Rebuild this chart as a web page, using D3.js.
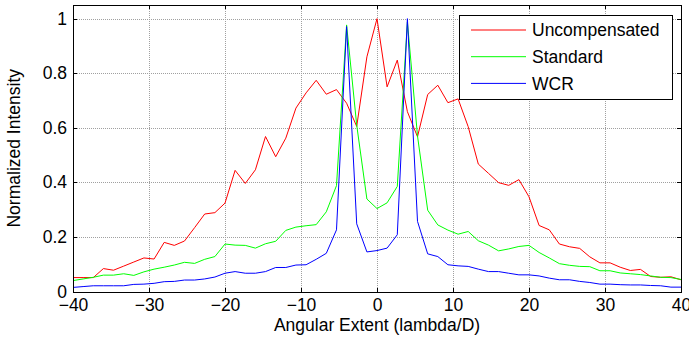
<!DOCTYPE html>
<html>
<head>
<meta charset="utf-8">
<script src="https://cdn.jsdelivr.net/npm/d3@7"></script>
<style>
  body { margin: 0; background: #fff; }
  svg text { font-family: "Liberation Sans", Arial, sans-serif; fill: #000; }
  .grid line { stroke: #a0a0a0; stroke-dasharray: 1,1; shape-rendering: crispEdges; }
  .axis path, .axis line { stroke: #000; shape-rendering: crispEdges; }
  .line { fill: none; stroke-width: 1; }
</style>
</head>
<body>
<svg id="chart"></svg>
<script>
// Data
const xValues = [-40, -38.67, -37.33, -36, -34.67, -33.33, -32, -30.67, -29.33, -28,
  -26.67, -25.33, -24, -22.67, -21.33, -20, -18.67, -17.33, -16, -14.67,
  -13.33, -12, -10.67, -9.33, -8, -6.67, -5.33, -4, -2.67, -1.33,
  0, 1.33, 2.67, 4, 5.33, 6.67, 8, 9.33, 10.67, 12,
  13.33, 14.67, 16, 17.33, 18.67, 20, 21.33, 22.67, 24, 25.33,
  26.67, 28, 29.33, 30.67, 32, 33.33, 34.67, 36, 37.33, 38.67, 40];

const uncompensated = [0.051, 0.051, 0.051, 0.084, 0.078, 0.093, 0.108, 0.123, 0.119, 0.180,
  0.169, 0.185, 0.234, 0.284, 0.289, 0.324, 0.444, 0.396, 0.446, 0.568,
  0.494, 0.562, 0.672, 0.728, 0.774, 0.723, 0.740, 0.690, 0.605, 0.860,
  1.000, 0.750, 0.848, 0.659, 0.567, 0.722, 0.756, 0.692, 0.706, 0.604,
  0.467, 0.433, 0.399, 0.389, 0.410, 0.347, 0.242, 0.226, 0.174, 0.164,
  0.158, 0.127, 0.105, 0.105, 0.089, 0.077, 0.081, 0.055, 0.052, 0.054, 0.043];

const standard = [0.040, 0.046, 0.052, 0.060, 0.060, 0.065, 0.059, 0.072, 0.082, 0.089,
  0.097, 0.107, 0.103, 0.118, 0.128, 0.174, 0.170, 0.169, 0.159, 0.175,
  0.184, 0.224, 0.236, 0.241, 0.245, 0.292, 0.388, 0.977, 0.610, 0.339,
  0.304, 0.325, 0.385, 0.988, 0.570, 0.298, 0.244, 0.225, 0.210, 0.220,
  0.186, 0.170, 0.149, 0.156, 0.165, 0.169, 0.143, 0.123, 0.102, 0.096,
  0.092, 0.091, 0.076, 0.076, 0.068, 0.065, 0.062, 0.057, 0.052, 0.051, 0.044];

const wcr = [0.015, 0.018, 0.021, 0.021, 0.021, 0.021, 0.026, 0.027, 0.030, 0.036,
  0.037, 0.042, 0.042, 0.046, 0.053, 0.067, 0.073, 0.067, 0.067, 0.073,
  0.088, 0.088, 0.097, 0.098, 0.118, 0.140, 0.226, 0.971, 0.248, 0.145,
  0.150, 0.159, 0.208, 1.000, 0.257, 0.138, 0.128, 0.098, 0.094, 0.092,
  0.082, 0.073, 0.073, 0.067, 0.061, 0.061, 0.057, 0.049, 0.043, 0.043,
  0.037, 0.033, 0.027, 0.027, 0.025, 0.024, 0.024, 0.022, 0.021, 0.016, 0.016];

const seriesNames = ["Uncompensated", "Standard", "WCR"];
const seriesColors = ["#ff0000", "#00ff00", "#0000ff"];
const xTicks = [-40, -30, -20, -10, 0, 10, 20, 30, 40];
const yTicks = [0, 0.2, 0.4, 0.6, 0.8, 1];

// Dimensions and margins of the graph
let margin = {top: 5, right: 8, bottom: 56.5, left: 73},
    width = 689 - margin.left - margin.right,
    height = 348 - margin.top - margin.bottom;

let x = d3.scaleLinear().domain([-40, 40]).range([0, width]);
let y = d3.scaleLinear().domain([0, 1.05]).range([height, 0]);

let svg = d3.select("#chart")
    .attr("width", 689)
    .attr("height", 348)
  .append("g")
    .attr("transform", "translate(" + margin.left + "," + margin.top + ")");

// Grid lines
let grid = svg.append("g").attr("class", "grid");
grid.selectAll(".gx")
    .data(xTicks.slice(1, -1))
  .enter().append("line")
    .attr("x1", d => Math.round(x(d)) + 0.5).attr("x2", d => Math.round(x(d)) + 0.5)
    .attr("y1", 0).attr("y2", height);
grid.selectAll(".gy")
    .data(yTicks.slice(1))
  .enter().append("line")
    .attr("x1", 0).attr("x2", width)
    .attr("y1", d => Math.round(y(d)) + 0.5).attr("y2", d => Math.round(y(d)) + 0.5);

// The lines
let series = [uncompensated, standard, wcr];
series.forEach(function(vals, i) {
  let line = d3.line()
      .x(function(d, j) { return x(xValues[j]); })
      .y(function(d) { return y(d); });
  svg.append("path")
      .datum(vals)
      .attr("class", "line")
      .attr("stroke", seriesColors[i])
      .attr("d", line);
});

// Axes, MATLAB style: ticks inside on all four sides
svg.append("g")
    .attr("class", "axis")
    .attr("transform", "translate(0," + height + ")")
    .call(d3.axisBottom(x).tickValues(xTicks).tickSizeInner(-4).tickSizeOuter(0).tickPadding(7))
    .call(g => g.selectAll("text").attr("font-size", "17.5px").attr("font-family", null));
svg.append("g")
    .attr("class", "axis")
    .call(d3.axisTop(x).tickValues(xTicks).tickSizeInner(-4).tickSizeOuter(0).tickFormat(""));
svg.append("g")
    .attr("class", "axis")
    .call(d3.axisLeft(y).tickValues(yTicks).tickSizeInner(-4).tickSizeOuter(0).tickPadding(6)
      .tickFormat(d3.format("~g")))
    .call(g => g.selectAll("text").attr("font-size", "17.5px").attr("font-family", null));
svg.append("g")
    .attr("class", "axis")
    .attr("transform", "translate(" + width + ",0)")
    .call(d3.axisRight(y).tickValues(yTicks).tickSizeInner(-4).tickSizeOuter(0).tickFormat(""));

// Axis labels
svg.append("text")
    .attr("x", width / 2)
    .attr("y", height + 39)
    .attr("text-anchor", "middle")
    .attr("font-size", "17.5px")
    .text("Angular Extent (lambda/D)");
svg.append("text")
    .attr("transform", "rotate(-90)")
    .attr("x", -height / 2)
    .attr("y", -53)
    .attr("text-anchor", "middle")
    .attr("font-size", "17.5px")
    .text("Normalized Intensity");

// Legend
let legend = svg.append("g").attr("transform", "translate(" + (459 - margin.left) + "," + (15 - margin.top) + ")");
legend.append("rect")
    .attr("x", 0.5).attr("y", 0.5)
    .attr("width", 213).attr("height", 84)
    .attr("fill", "#fff").attr("stroke", "#000")
    .attr("shape-rendering", "crispEdges");
seriesNames.forEach(function(name, i) {
  let ly = 15 + i * 26.7;
  legend.append("line")
      .attr("x1", 12).attr("x2", 67)
      .attr("y1", ly).attr("y2", ly)
      .attr("stroke", seriesColors[i]);
  legend.append("text")
      .attr("x", 73)
      .attr("y", ly)
      .attr("dy", "0.35em")
      .attr("font-size", "17.5px")
      .text(name);
});
</script>
</body>
</html>
